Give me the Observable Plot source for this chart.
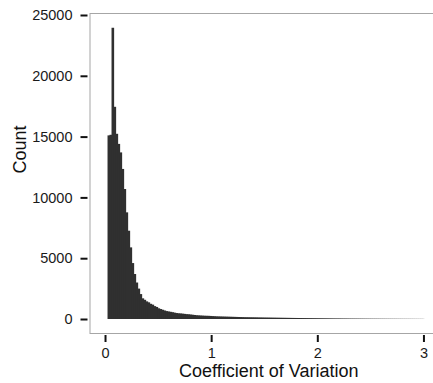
<!DOCTYPE html>
<html>
<head>
<meta charset="utf-8">
<script src="https://cdn.jsdelivr.net/npm/d3@7"></script>
<script src="https://cdn.jsdelivr.net/npm/@observablehq/plot@0.6"></script>
<style>
  html, body { margin: 0; padding: 0; background: #fff; }
  #chart svg { font-family: "Liberation Sans", Arial, Helvetica, sans-serif; }
</style>
</head>
<body>
<div id="chart"></div>
<script>
// Histogram of coefficient of variation (bin counts)
const binStart = 0.0236;
const binWidth = 0.01886;
const counts = [
  15100, 15150, 23950, 17450, 15230, 14400, 13700, 12340, 10690, 8770,
  7260, 5890, 4600, 3700, 3000, 2500, 2050, 1700, 1580, 1450,
  1370, 1250, 1180, 1060, 990, 880, 820, 760, 700, 650,
  620, 590, 560, 520, 490, 470, 460, 440, 420, 400,
  390, 370, 350, 330, 310, 300, 290, 280, 270, 265,
  260, 250, 240, 230, 220, 215, 210, 205, 200, 195,
  190, 185, 180, 175, 170, 165, 160, 155, 150, 148,
  145, 142, 140, 137, 135, 130, 128, 125, 122, 120,
  118, 115, 112, 110, 107, 105, 102, 100, 98, 95,
  93, 90, 88, 86, 84, 82, 80, 78, 76, 74,
  72, 70, 68, 66, 64, 62, 60, 58, 56, 54,
  52, 50, 48, 46, 45, 44, 42, 40, 39, 38,
  36, 35, 34, 33, 32, 31, 30, 29, 28, 27,
  26, 25, 24, 24, 23, 22, 21, 21, 20, 19,
  19, 18, 17, 17, 16, 15, 15, 14, 14, 13,
  13, 12, 12, 11, 11, 10, 10, 9
];
const xTicks = [0, 1, 2, 3];
const yTicks = [0, 5000, 10000, 15000, 20000, 25000];
const xTitle = "Coefficient of Variation";
const yTitle = "Count";

const bins = counts.map((c, i) => ({
  x1: binStart + i * binWidth,
  x2: binStart + (i + 1) * binWidth,
  count: c
}));

const chart = Plot.plot({
  width: 433,
  height: 383,
  marginLeft: 89.5,
  marginRight: 0,
  marginTop: 13,
  marginBottom: 50,
  x: { domain: [-0.1462, 3.09], axis: null },
  y: { domain: [-1151, 25164], axis: null },
  marks: [
    Plot.rectY(bins, { x1: "x1", x2: "x2", y: "count", fill: "#303030", insetRight: -0.6 }),
    // panel border
    Plot.frame({ stroke: "#a6a6a6", strokeWidth: 1 }),
    Plot.axisY(yTicks, {
      anchor: "left", tickSize: 7, tickPadding: 8.5, dx: -2,
      stroke: "#111", strokeWidth: 2, fill: "#1a1a1a", fontSize: 14.5, label: null,
      tickFormat: d => String(d)
    }),
    Plot.axisX(xTicks, {
      anchor: "bottom", tickSize: 7, tickPadding: 5, dy: 2,
      stroke: "#111", strokeWidth: 2, fill: "#1a1a1a", fontSize: 14.5, label: null,
      tickFormat: d => String(d)
    }),
    Plot.text([xTitle], {
      frameAnchor: "bottom", text: d => d, dx: 7, dy: 38,
      fontSize: 18, fill: "#111", lineAnchor: "middle"
    }),
    Plot.text([yTitle], {
      frameAnchor: "left", text: d => d, dx: -70, rotate: -90,
      fontSize: 18, fill: "#111", lineAnchor: "middle"
    })
  ]
});
document.getElementById("chart").appendChild(chart);
</script>
</body>
</html>
